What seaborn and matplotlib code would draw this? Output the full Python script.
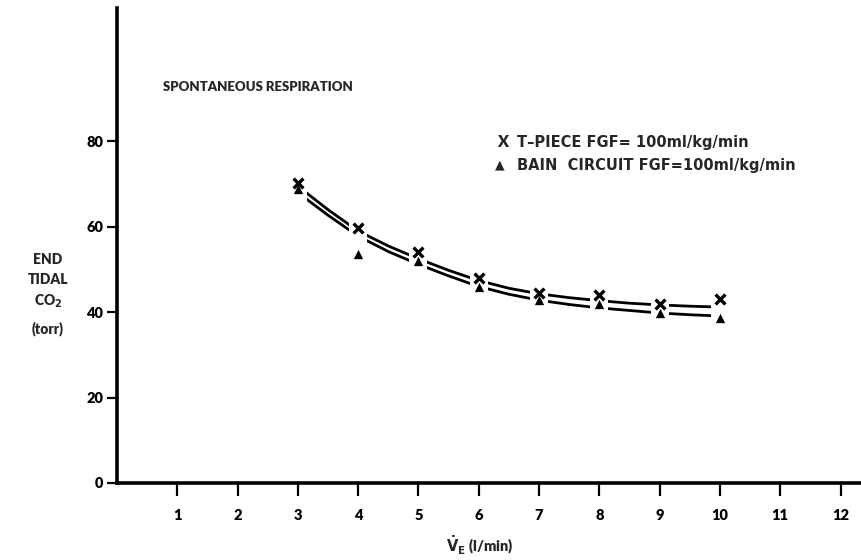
import numpy as np
import pandas as pd
import matplotlib
matplotlib.use("Agg")
import matplotlib.pyplot as plt
import seaborn as sns

# ---- data ----
ve = [3, 4, 5, 6, 7, 8, 9, 10]
tpiece_co2 = [70.2, 59.7, 54.0, 48.0, 44.5, 44.0, 42.0, 43.0]
bain_co2 = [68.8, 53.6, 51.9, 45.8, 42.9, 41.9, 39.8, 38.6]

curve_x = [3, 3.5, 4, 4.5, 5, 5.5, 6, 6.5, 7, 7.5, 8, 8.5, 9, 9.5, 10]
tpiece_curve = [69.5, 64.0, 59.0, 55.5, 52.5, 49.8, 47.4, 45.6, 44.3, 43.4, 42.7, 42.1, 41.7, 41.4, 41.2]
bain_curve = [68.0, 62.7, 57.8, 54.2, 51.2, 48.5, 46.0, 44.2, 42.8, 41.8, 41.0, 40.4, 39.8, 39.4, 39.1]

x_ticks = [1, 2, 3, 4, 5, 6, 7, 8, 9, 10, 11, 12]
y_ticks = [0, 20, 40, 60, 80]

title_text = "SPONTANEOUS RESPIRATION"
legend_labels = ["T\u2013PIECE FGF= 100ml/kg/min", "BAIN  CIRCUIT FGF=100ml/kg/min"]

# ---- style ----
sns.set_theme(style="white")
plt.rcParams["font.family"] = ["Lato", "DejaVu Sans"]
plt.rcParams["font.weight"] = "heavy"
W = "heavy"

fig = plt.figure(figsize=(8.61, 5.6), dpi=100)
ax = fig.add_axes([0.1359, 0.1375, 0.8641, 0.848])

curves = pd.DataFrame({
    "x": curve_x * 2,
    "y": tpiece_curve + bain_curve,
    "series": ["T"] * len(curve_x) + ["B"] * len(curve_x),
})
sns.lineplot(data=curves, x="x", y="y", units="series", estimator=None,
             color="black", lw=2.0, ax=ax, legend=False, zorder=2)

# white masks that break the lines at each measurement position
mask_x = [cx for cx in curve_x if float(cx).is_integer()]
mask_t = [tpiece_curve[curve_x.index(cx)] for cx in mask_x]
mask_b = [bain_curve[curve_x.index(cx)] for cx in mask_x]
ax.scatter(mask_x, mask_t, marker="s", s=170, color="white", zorder=3, linewidths=0)
ax.scatter(mask_x, mask_b, marker="s", s=170, color="white", zorder=3, linewidths=0)

pts = pd.DataFrame({"x": ve * 2, "y": tpiece_co2 + bain_co2,
                    "series": ["T"] * len(ve) + ["B"] * len(ve)})
sns.scatterplot(data=pts[pts.series == "T"], x="x", y="y", marker="x", s=50,
                color="black", linewidth=2.4, ax=ax, zorder=4, legend=False)
sns.scatterplot(data=pts[pts.series == "B"], x="x", y="y", marker="^", s=45,
                color="black", linewidth=0, ax=ax, zorder=4, legend=False)

ax.set_xlim(0, 12.34)
ax.set_ylim(0, 111.2)
ax.set_xticks(x_ticks)
ax.set_xticklabels([str(t) for t in x_ticks])
ax.set_yticks(y_ticks)
ax.set_yticklabels([str(t) for t in y_ticks])
ax.set_xlabel("")
ax.set_ylabel("")

for s in ["top", "right"]:
    ax.spines[s].set_visible(False)
for s in ["left", "bottom"]:
    ax.spines[s].set_linewidth(2.6)
    ax.spines[s].set_color("black")

ax.tick_params(axis="x", direction="out", length=9, width=1.6, pad=10,
               labelsize=10.5, colors="black", bottom=True)
ax.tick_params(axis="y", direction="out", length=7, width=1.6, pad=3,
               labelsize=10.5, colors="black", left=True)
for lab in ax.get_xticklabels() + ax.get_yticklabels():
    lab.set_fontweight(W)

# texts
fig.text(163 / 861, 1 - 87 / 560, title_text, fontsize=9.5, fontweight=W,
         va="center", ha="left")
fig.text(497 / 861, 1 - 142 / 560, "X", fontsize=11.5, fontweight=W, va="center", ha="left")
fig.text(517 / 861, 1 - 142 / 560, legend_labels[0], fontsize=10.5, fontweight="bold",
         va="center", ha="left", family=["DejaVu Sans"])
fig.text(495 / 861, 1 - 165 / 560, "\u25B2", fontsize=9, fontweight="bold", va="center",
         ha="left", family=["DejaVu Sans"])
fig.text(517 / 861, 1 - 165 / 560, legend_labels[1], fontsize=10.5, fontweight="bold",
         va="center", ha="left", family=["DejaVu Sans"])

for txt, yy in [("END", 260), ("TIDAL", 280), (r"CO$_\mathbf{2}$", 301), ("(torr)", 329)]:
    fig.text(48 / 861, 1 - yy / 560, txt, fontsize=10, fontweight=W,
             ha="center", va="center")

fig.text(480 / 861, 1 - 546 / 560, r"$\dot{\mathbf{V}}_{\mathbf{E}}$ (l/min)", fontsize=10.5,
         fontweight=W, ha="center", va="center")

fig.savefig("out.png", dpi=100, facecolor="white")
